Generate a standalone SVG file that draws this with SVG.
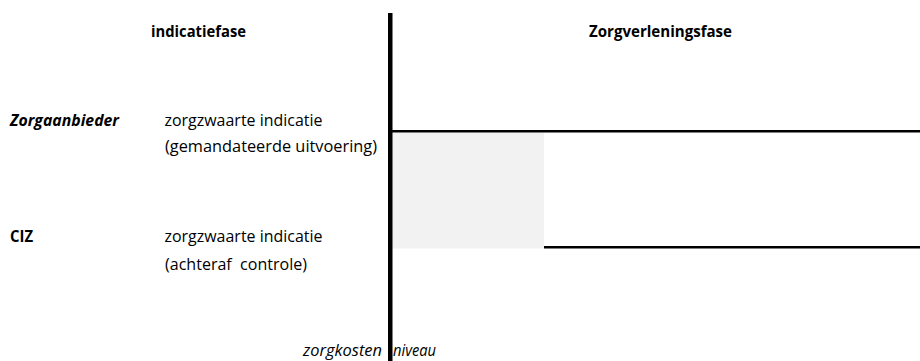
<svg xmlns="http://www.w3.org/2000/svg" width="920" height="361" viewBox="0 0 920 361">
<style>
text{font-family:"Open Sans","Noto Sans","Liberation Sans",sans-serif;font-size:15.5px;fill:#000}
.b{font-weight:bold}
.i{font-style:italic}
.ln{fill:#000}
</style>
<rect width="920" height="361" fill="#fff"/>
<g id="shade"><rect x="392" y="132.5" width="152" height="116" fill="#f2f2f2"/></g>
<g id="headers">
<text class="b" x="151" y="37" textLength="95" lengthAdjust="spacingAndGlyphs">indicatiefase</text>
<text class="b" x="589" y="37" textLength="143" lengthAdjust="spacingAndGlyphs">Zorgverleningsfase</text>
</g>
<g id="zorgaanbieder">
<text class="b i" x="10" y="126" textLength="109" lengthAdjust="spacingAndGlyphs">Zorgaanbieder</text>
<text x="164.5" y="126" textLength="158" lengthAdjust="spacingAndGlyphs">zorgzwaarte indicatie</text>
<text x="165" y="152" textLength="212" lengthAdjust="spacingAndGlyphs">(gemandateerde uitvoering)</text>
</g>
<g id="ciz">
<text class="b" x="10" y="242" textLength="23" lengthAdjust="spacingAndGlyphs">CIZ</text>
<text x="164.5" y="242" textLength="158" lengthAdjust="spacingAndGlyphs">zorgzwaarte indicatie</text>
<text x="165" y="270" textLength="142" lengthAdjust="spacingAndGlyphs" xml:space="preserve">(achteraf  controle)</text>
</g>
<g id="axis-label">
<text class="i" x="303" y="356" textLength="79" lengthAdjust="spacingAndGlyphs">zorgkosten</text>
<text class="i" x="393" y="356" textLength="43" lengthAdjust="spacingAndGlyphs">niveau</text>
</g>
<g id="connectors">
<rect class="ln" x="388" y="13" width="4.5" height="348"/>
<rect class="ln" x="392" y="130" width="528" height="2.5"/>
<rect class="ln" x="544" y="246" width="376" height="2.5"/>
</g>
</svg>
